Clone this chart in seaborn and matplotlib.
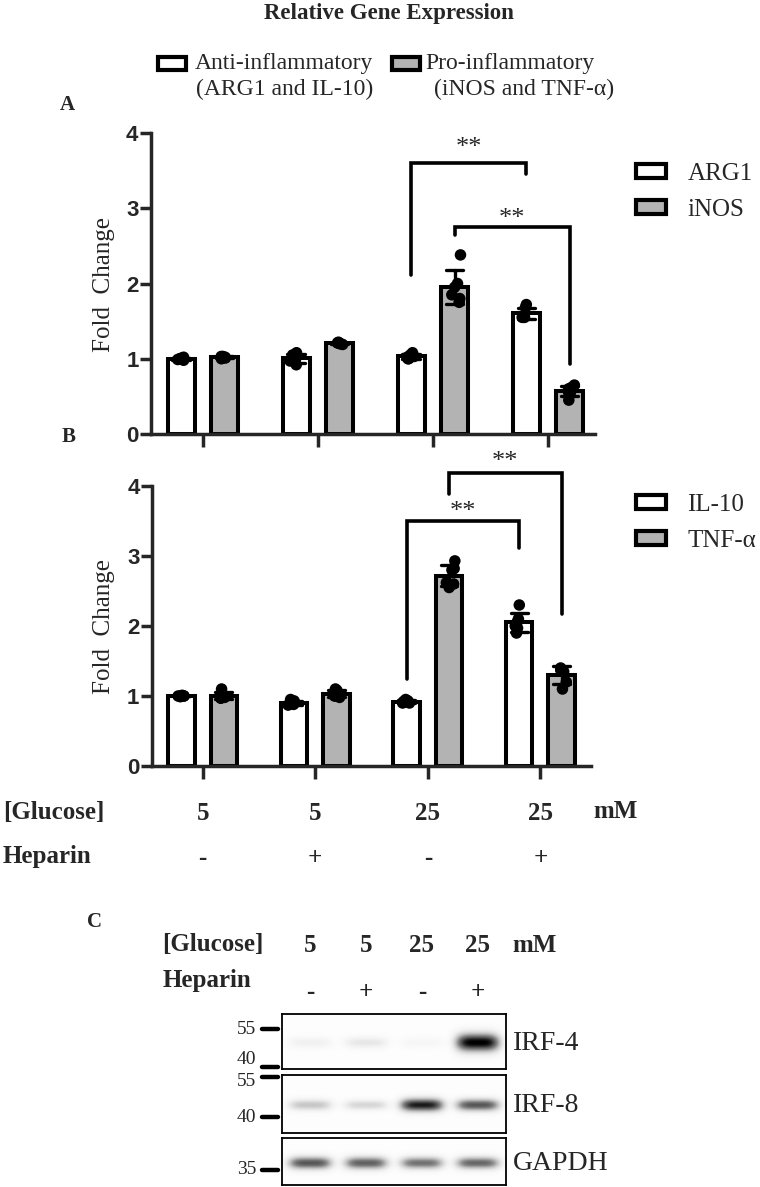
# Relative gene expression (qPCR bars) + western blot panel
import numpy as np
import pandas as pd
import matplotlib.pyplot as plt
import seaborn as sns
from matplotlib.patches import Patch, Rectangle
from matplotlib.lines import Line2D
from matplotlib.transforms import blended_transform_factory

# ---- data ----
conditions = ['5 / -', '5 / +', '25 / -', '25 / +']
glucose_labels = ['5', '5', '25', '25']
heparin_labels = ['-', '+', '-', '+']

# panel A replicates (fold change)
arg1 = [[1.00, 1.01, 0.99, 1.00, 0.98, 1.02],
        [0.92, 1.05, 1.08, 1.00, 0.97, 1.00],
        [1.05, 1.08, 1.00, 1.02, 1.00, 1.03],
        [1.72, 1.68, 1.55, 1.55, 1.57, 1.55]]
inos = [[1.02, 1.03, 1.00, 1.02, 1.03, 1.01],
        [1.22, 1.20, 1.21, 1.19, 1.20, 1.21],
        [2.38, 2.00, 1.80, 1.75, 1.95, 1.85],
        [0.60, 0.45, 0.55, 0.65, 0.62, 0.55]]

# panel B replicates (fold change)
il10 = [[1.00, 1.01, 1.00, 0.99, 1.00, 1.00],
        [0.93, 0.95, 0.90, 0.88, 0.87, 0.90],
        [0.95, 0.93, 0.92, 0.90, 0.91, 0.90],
        [2.30, 2.10, 1.90, 2.00, 2.05, 1.97]]
tnfa = [[1.10, 1.00, 0.97, 0.98, 0.97, 1.00],
        [1.10, 1.08, 1.00, 0.98, 1.02, 1.00],
        [2.93, 2.80, 2.82, 2.60, 2.55, 2.62],
        [1.40, 1.38, 1.10, 1.20, 1.35, 1.37]]

# western blot band intensities per lane (0 = none, 1 = saturated)
blot_names = ['IRF-4', 'IRF-8', 'GAPDH']
irf4_bands = [0.10, 0.16, 0.06, 1.00]
irf8_bands = [0.32, 0.25, 0.90, 0.72]
gapdh_bands = [0.72, 0.68, 0.62, 0.66]
ladder_kda = ['55', '40', '55', '40', '35']

GRAY = '#b3b3b3'
SERIF = 'Liberation Serif'
SANS = 'Liberation Sans'

sns.set_style('ticks')
plt.rcParams['font.family'] = [SERIF, 'DejaVu Sans']

W, H = 760, 1187


def fx(px):
    return px / W


def fy(py):
    return 1 - py / H


def long_df(g1, v1, g2, v2):
    rows = []
    for name, vals in ((g1, v1), (g2, v2)):
        for cond, reps in zip(conditions, vals):
            for r in reps:
                rows.append({'condition': cond, 'gene': name, 'value': r})
    return pd.DataFrame(rows)


def bar_panel(ax, df, g1, g2, xlim):
    pal = {g1: 'white', g2: GRAY}
    sns.barplot(data=df, x='condition', y='value', hue='gene', order=conditions,
                hue_order=[g1, g2], palette=pal, saturation=1, errorbar='sd',
                capsize=0.3, err_kws={'color': 'black', 'linewidth': 2.4},
                edgecolor='black', linewidth=2.9, width=0.755, gap=0.38,
                legend=False, ax=ax)
    np.random.seed(3)
    sns.stripplot(data=df, x='condition', y='value', hue='gene', order=conditions,
                  hue_order=[g1, g2], palette={g1: 'black', g2: 'black'},
                  dodge=True, jitter=0.085, size=8.3, legend=False, ax=ax)
    ax.set_xlim(*xlim)
    ax.set_ylim(0, 4)
    ax.set_yticks([0, 1, 2, 3, 4])
    ax.set_yticklabels(['0', '1', '2', '3', '4'], fontfamily=SANS,
                       fontweight='bold', fontsize=16)
    ax.set_xticklabels([])
    ax.set_xlabel('')
    ax.set_ylabel('')
    sns.despine(ax=ax)
    for s in ('left', 'bottom'):
        ax.spines[s].set_linewidth(2.5)
    ax.tick_params(axis='y', length=8, width=2.5, pad=1)
    ax.tick_params(axis='x', length=9, width=2.5)
    leg_handles = [Patch(facecolor='white', edgecolor='black', linewidth=3.0),
                   Patch(facecolor=GRAY, edgecolor='black', linewidth=3.0)]
    return leg_handles


def bracket(ax, x1, x2, y1, y2, ytop, ystar):
    ax.plot([x1, x1, x2, x2], [y1, ytop, ytop, y2], color='black', lw=2.6,
            clip_on=False, solid_joinstyle='miter')
    ax.text((x1 + x2) / 2, ystar, '**', ha='center', va='baseline',
            fontsize=19, fontfamily=SERIF, clip_on=False)


fig = plt.figure(figsize=(7.6, 11.87), dpi=100)

# ---- header legend ----
fig.text(fx(389), fy(13), 'Relative Gene Expression', ha='center', va='center',
         fontsize=16.5, fontweight='bold')
for bx, face in ((158, 'white'), (392, GRAY)):
    fig.add_artist(Rectangle((fx(bx), fy(70)), fx(28), 13 / H, transform=fig.transFigure,
                             facecolor=face, edgecolor='black', linewidth=3.0))
fig.text(fx(195), fy(63), 'Anti-inflammatory', ha='left', va='center', fontsize=17)
fig.text(fx(196), fy(89), '(ARG1 and IL-10)', ha='left', va='center', fontsize=17)
fig.text(fx(425), fy(63), 'Pro-inflammatory', ha='left', va='center', fontsize=17)
fig.text(fx(434), fy(89), '(iNOS and TNF-\u03b1)', ha='left', va='center', fontsize=17)

# ---- panel A ----
axA = fig.add_axes([fx(151), fy(434), fx(444), 301 / H])
hA = bar_panel(axA, long_df('ARG1', arg1, 'iNOS', inos), 'ARG1', 'iNOS', (-0.45, 3.41))
off = 0.189
bracket(axA, 2 - off, 3 - off, 2.11, 3.46, 3.60, 3.72)
bracket(axA, 2 + off, 3 + off, 2.65, 0.93, 2.75, 2.78)
axA.legend(hA, ['ARG1', 'iNOS'], loc='center left', bbox_to_anchor=(fx(636), fy(192)),
           bbox_transform=fig.transFigure, frameon=False, prop={'family': SERIF, 'size': 18},
           handlelength=1.2, handleheight=0.5, handletextpad=0.85, labelspacing=0.55,
           borderpad=0, borderaxespad=0)
fig.text(fx(67), fy(105), 'A', ha='center', va='center', fontsize=15, fontweight='bold')
fig.text(fx(104), fy(284), 'Fold  Change', rotation=90, ha='center', va='center', fontsize=18)

# ---- panel B ----
axB = fig.add_axes([fx(152), fy(766), fx(439), 280 / H])
hB = bar_panel(axB, long_df('IL-10', il10, 'TNF-\u03b1', tnfa), 'IL-10', 'TNF-\u03b1', (-0.45, 3.45))
bracket(axB, 2 - off, 3 - off, 1.24, 3.12, 3.50, 3.55)
bracket(axB, 2 + off, 3 + off, 3.88, 2.17, 4.19, 4.26)
axB.legend(hB, ['IL-10', 'TNF-\u03b1'], loc='center left', bbox_to_anchor=(fx(636), fy(523)),
           bbox_transform=fig.transFigure, frameon=False, prop={'family': SERIF, 'size': 18},
           handlelength=1.2, handleheight=0.5, handletextpad=0.85, labelspacing=0.55,
           borderpad=0, borderaxespad=0)
fig.text(fx(69), fy(437), 'B', ha='center', va='center', fontsize=15, fontweight='bold')
fig.text(fx(104), fy(626), 'Fold  Change', rotation=90, ha='center', va='center', fontsize=18)

# treatment rows under panel B
trB = blended_transform_factory(axB.transData, fig.transFigure)
fig.text(fx(3), fy(812), '[Glucose]', ha='left', va='center', fontsize=18, fontweight='bold')
fig.text(fx(3), fy(857), 'Heparin', ha='left', va='center', fontsize=18, fontweight='bold')
for i, (g, h) in enumerate(zip(glucose_labels, heparin_labels)):
    axB.text(i, fy(814), g, transform=trB, ha='center', va='center', fontsize=18,
             fontweight='bold')
    axB.text(i, fy(858), h, transform=trB, ha='center', va='center', fontsize=18,
             fontweight='bold')
fig.text(fx(616), fy(812), 'mM', ha='center', va='center', fontsize=18, fontweight='bold')

# ---- panel C: western blot ----
fig.text(fx(95), fy(922), 'C', ha='center', va='center', fontsize=15, fontweight='bold')
blot_boxes = [(1014, 1069), (1075, 1133), (1138, 1185)]
blot_label_y = [1043, 1105, 1163]
blot_thick = [[1.0, 1.0, 1.0, 1.6], [1.0, 0.9, 1.2, 1.1], [1.15, 1.15, 1.1, 1.1]]
blot_axes = []
for name, bands, thick, (top, bot), ly in zip(blot_names,
                                              [irf4_bands, irf8_bands, gapdh_bands],
                                              blot_thick, blot_boxes, blot_label_y):
    axb = fig.add_axes([fx(282), fy(bot), fx(224), (bot - top) / H])
    xs = np.linspace(-0.5, 3.5, 320)
    ys = np.linspace(0, bot - top, 80)
    X, Y = np.meshgrid(xs, ys)
    img = np.full_like(X, 0.015)
    band_y = bot - ly
    for i, (amp, t) in enumerate(zip(bands, thick)):
        img += amp * np.exp(-(np.abs(X - i) / 0.39) ** 4) * \
            np.exp(-((Y - band_y) / (5.5 * t)) ** 2)
    axb.imshow(img, extent=(-0.5, 3.5, 0, bot - top), origin='lower', cmap='Greys',
               vmin=0, vmax=1, aspect='auto', interpolation='bilinear')
    axb.set_xticks([])
    axb.set_yticks([])
    for s in axb.spines.values():
        s.set_linewidth(1.3)
        s.set_color('black')
    fig.text(fx(513), fy(ly), name, ha='left', va='center', fontsize=20)
    blot_axes.append(axb)

trC = blended_transform_factory(blot_axes[0].transData, fig.transFigure)
fig.text(fx(162), fy(945), '[Glucose]', ha='left', va='center', fontsize=18, fontweight='bold')
fig.text(fx(163), fy(980), 'Heparin', ha='left', va='center', fontsize=18, fontweight='bold')
for i, (g, h) in enumerate(zip(glucose_labels, heparin_labels)):
    blot_axes[0].text(i, fy(945), g, transform=trC, ha='center', va='center', fontsize=18,
                      fontweight='bold')
    blot_axes[0].text(i, fy(993), h, transform=trC, ha='center', va='center', fontsize=18,
                      fontweight='bold')
fig.text(fx(535), fy(945), 'mM', ha='center', va='center', fontsize=18, fontweight='bold')

# molecular weight ladder marks
ladder_tick_y = [1029, 1067, 1077, 1117, 1170]
ladder_text_y = [1029, 1060, 1081, 1117, 1170]
for kda, ty, ly in zip(ladder_kda, ladder_tick_y, ladder_text_y):
    fig.add_artist(Line2D([fx(262), fx(278)], [fy(ty), fy(ty)], transform=fig.transFigure,
                          color='black', linewidth=3.2))
    fig.text(fx(256), fy(ly), kda, ha='right', va='center', fontsize=14)

fig.savefig('out.png', dpi=100)
